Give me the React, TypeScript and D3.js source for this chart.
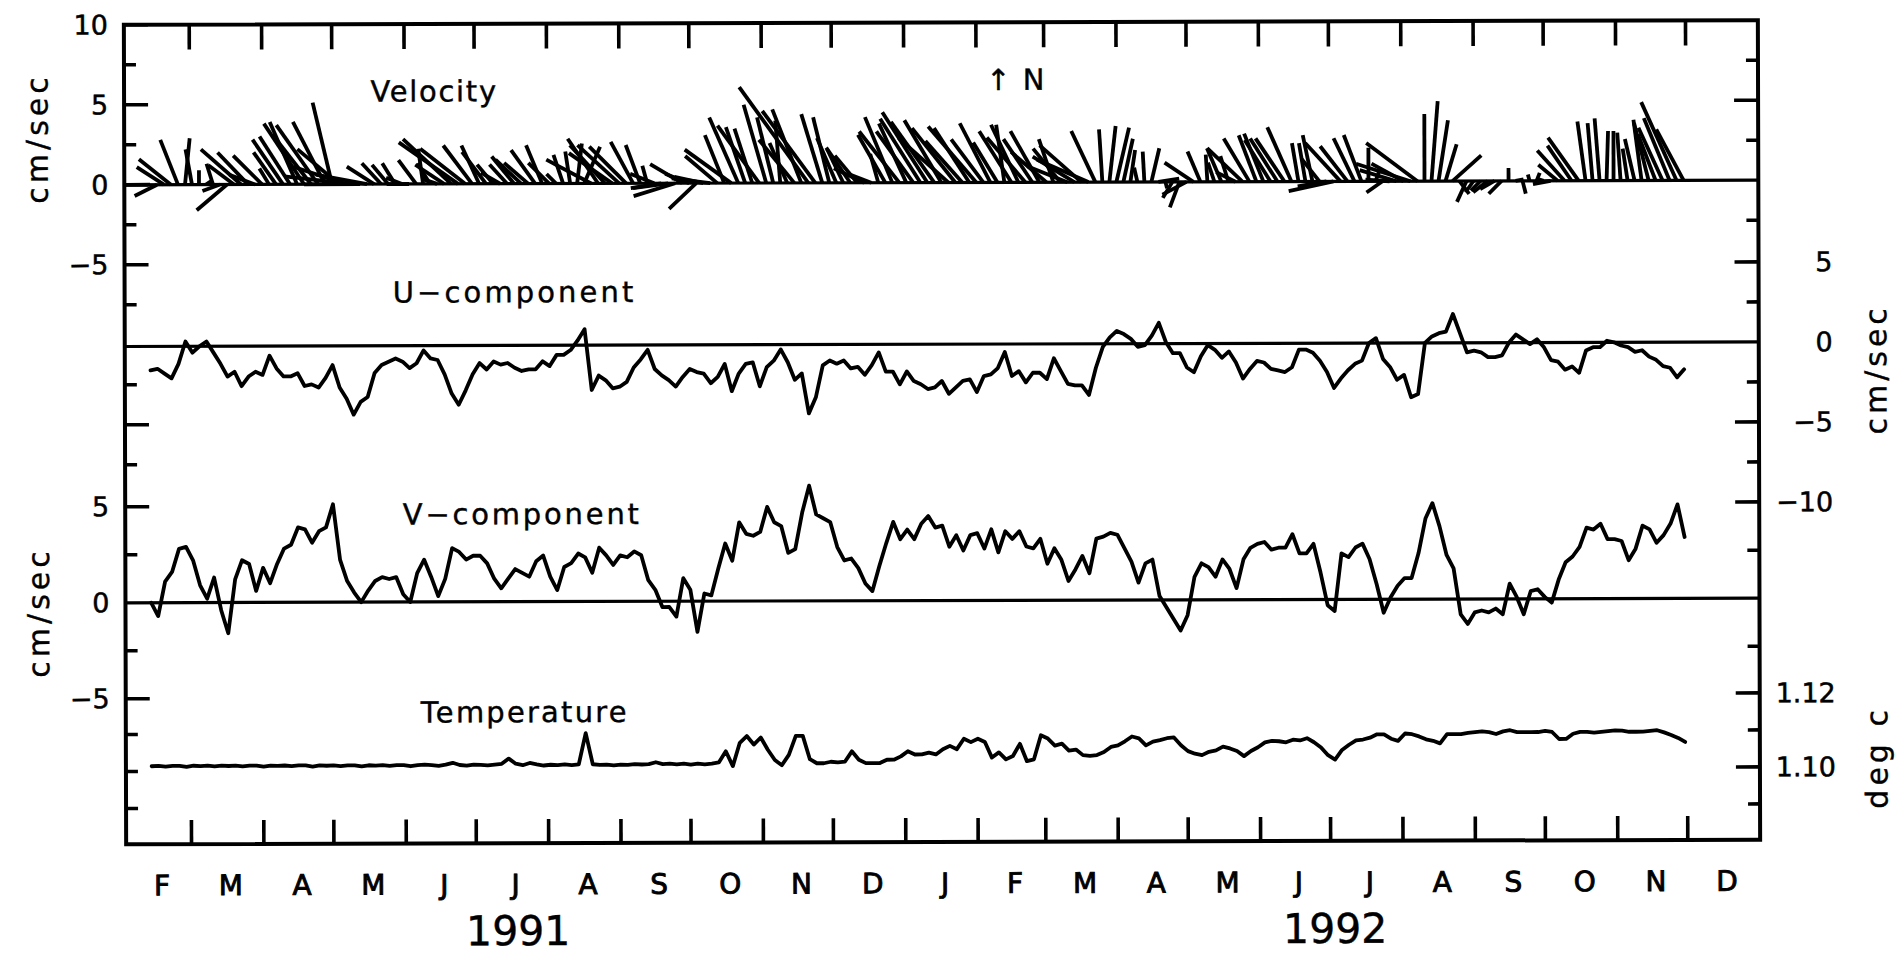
import React from 'react';
import * as d3 from 'd3';

// ---------------- data ----------------
const MONTH_LABELS = ['F','M','A','M','J','J','A','S','O','N','D','J','F','M','A','M','J','J','A','S','O','N','D'];
const YEAR_LABELS = ['1991', '1992'];
const SERIES_START = new Date(1991, 1, 12);
const STEP_DAYS = 3;

// U-component (cm/sec), one value every 3 days from 12 Feb 1991
const U_COMPONENT = [
  -1.5, -1.4, -1.7, -2.0, -1.1, 0.3, -0.4, 0.0, 0.3, -0.4,
  -1.1, -1.9, -1.6, -2.5, -1.9, -1.6, -1.8, -0.6, -1.4, -1.9,
  -1.9, -1.7, -2.5, -2.4, -2.6, -2.0, -1.2, -2.6, -3.3, -4.3,
  -3.5, -3.2, -1.7, -1.2, -1.0, -0.8, -1.0, -1.4, -1.1, -0.3,
  -0.8, -0.9, -1.8, -3.0, -3.7, -2.8, -1.8, -1.1, -1.5, -1.0,
  -1.2, -1.1, -1.4, -1.6, -1.5, -1.5, -1.0, -1.3, -0.6, -0.6,
  -0.3, 0.3, 1.0, -2.8, -1.9, -2.2, -2.7, -2.6, -2.3, -1.4,
  -0.9, -0.3, -1.5, -1.9,
  -2.2, -2.6, -2.0, -1.5, -1.7, -1.8,
  -2.4, -2.0, -1.2, -2.9, -1.8, -1.2, -1.1, -2.6, -1.4, -1.0,
  -0.3, -1.1, -2.2, -1.8, -4.3, -3.3, -1.3, -1.0, -1.2, -1.0,
  -1.5, -1.4, -1.9, -1.3, -0.5, -1.7, -1.7, -2.5, -1.7, -2.3,
  -2.5, -2.8, -2.7, -2.3, -3.1, -2.7, -2.3, -2.2, -3.0, -2.0,
  -1.9, -1.5, -0.5, -2.0, -1.7, -2.4, -1.8, -1.8, -2.2, -0.9,
  -1.7, -2.5, -2.6, -2.6, -3.2, -1.5, -0.2, 0.4, 0.8, 0.6,
  0.3, -0.2, -0.1, 0.5, 1.3, 0.1, -0.6,
  -0.6, -1.5, -1.8,
  -0.8, -0.1, -0.4, -0.9, -0.5, -1.2, -2.2, -1.6, -1.1, -1.2,
  -1.6, -1.7, -1.8, -1.5, -0.4, -0.4, -0.6, -1.1, -1.8, -2.8,
  -2.2, -1.7, -1.3, -1.1, 0.0, 0.3, -1.0, -1.5, -2.3, -2.0,
  -3.4, -3.2, 0.0, 0.4, 0.6, 0.7, 1.8, 0.6, -0.6, -0.5,
  -0.6, -0.9, -0.9, -0.8, 0.0, 0.5, 0.2, -0.1, 0.2, -0.3,
  -1.1, -1.2, -1.7, -1.5, -1.9, -0.5, -0.3, -0.3, 0.1, 0.0,
  -0.2, -0.3, -0.6, -0.5, -0.9, -1.1, -1.5, -1.6, -2.2, -1.7,
];

// V-component (cm/sec)
const V_COMPONENT = [
  0.0, -0.7, 1.1, 1.6, 2.8, 2.9, 2.2, 0.9, 0.2, 1.3,
  -0.4, -1.6, 1.2, 2.2, 2.0, 0.6, 1.8, 1.0, 2.0, 2.8,
  3.0, 3.9, 3.8, 3.1, 3.7, 3.9, 5.1, 2.2, 1.1, 0.5,
  0.0, 0.6, 1.1, 1.3, 1.2, 1.3, 0.4, 0.0, 1.5, 2.2,
  1.3, 0.3, 1.2, 2.8, 2.6, 2.2, 2.4, 2.4, 2.0, 1.2,
  0.7, 1.2, 1.7, 1.5, 1.3, 2.1, 2.4, 1.3, 0.6, 1.8,
  2.0, 2.5, 2.3, 1.5, 2.8, 2.4, 1.9, 2.4, 2.3, 2.6,
  2.4, 1.1, 0.6, -0.3,
  -0.3, -0.8, 1.2, 0.6, -1.6, 0.4,
  0.3, 1.7, 3.0, 2.1, 4.1, 3.5, 3.4, 3.6, 4.9, 4.1,
  3.9, 2.5, 2.7, 4.6, 6.0, 4.5, 4.3, 4.1, 2.8, 2.1,
  2.2, 1.7, 0.9, 0.5, 1.8, 3.0, 4.1, 3.2, 3.7, 3.2,
  4.0, 4.4, 3.8, 3.9, 2.8, 3.4, 2.6, 3.4, 3.5, 2.7,
  3.7, 2.5, 3.6, 3.2, 3.6, 2.8, 2.7, 3.2, 1.9, 2.7,
  2.1, 1.0, 1.6, 2.3, 1.4, 3.2, 3.3, 3.5, 3.4, 2.7,
  2.0, 0.9, 1.9, 2.1, 0.2, -0.4, -1.0,
  -1.6, -0.8, 1.2,
  1.9, 1.7, 1.2, 2.1, 1.6, 0.6, 2.1, 2.7, 2.9, 3.0,
  2.6, 2.7, 2.7, 3.4, 2.4, 2.4, 2.9, 1.4, -0.3, -0.6,
  2.4, 2.2, 2.7, 2.9, 2.1, 0.8, -0.7, 0.1, 0.7, 1.1,
  1.1, 2.4, 4.2, 5.0, 3.8, 2.3, 1.6, -0.8, -1.3, -0.7,
  -0.6, -0.7, -0.5, -0.8, 0.8, 0.1, -0.8, 0.4, 0.5, 0.1,
  -0.2, 1.0, 1.9, 2.2, 2.7, 3.7, 3.6, 3.9, 3.1, 3.1,
  3.0, 2.0, 2.6, 3.8, 3.6, 2.9, 3.3, 3.9, 4.9, 3.2,
];

// Temperature (deg C)
const TEMPERATURE = [
  1.1014, 1.1015, 1.1013, 1.1015, 1.1015, 1.1012, 1.1015, 1.1014, 1.1015, 1.1013,
  1.1015, 1.1014, 1.1015, 1.1013, 1.1015, 1.1015, 1.1012, 1.1015, 1.1014, 1.1015,
  1.1013, 1.1015, 1.1015, 1.1012, 1.1015, 1.1014, 1.1015, 1.1013, 1.1015, 1.1015,
  1.1012, 1.1015, 1.1014, 1.1015, 1.1013, 1.1015, 1.1015, 1.1012, 1.1015, 1.1016,
  1.1015, 1.1013, 1.1016, 1.1021, 1.1015, 1.1013, 1.1016, 1.1015, 1.1014, 1.1016,
  1.1018, 1.1032, 1.1018, 1.1014, 1.1020, 1.1016, 1.1013, 1.1015, 1.1014, 1.1016,
  1.1014, 1.1016, 1.1100, 1.1016, 1.1014, 1.1015, 1.1013, 1.1015, 1.1014, 1.1016,
  1.1015, 1.1016, 1.1021, 1.1016,
  1.1017, 1.1015, 1.1017, 1.1014, 1.1017, 1.1015,
  1.1017, 1.1020, 1.1050, 1.1010, 1.1073, 1.1091, 1.1068, 1.1087, 1.1054, 1.1026,
  1.1012, 1.1040, 1.1091, 1.1091, 1.1028, 1.1017, 1.1017, 1.1021, 1.1019, 1.1021,
  1.1049, 1.1026, 1.1017, 1.1017, 1.1017, 1.1026, 1.1026, 1.1035, 1.1049, 1.1040,
  1.1040, 1.1045, 1.1040, 1.1054, 1.1063, 1.1054, 1.1082, 1.1073, 1.1082, 1.1073,
  1.1031, 1.1045, 1.1026, 1.1035, 1.1068, 1.1021, 1.1026, 1.1091, 1.1082, 1.1063,
  1.1068, 1.1049, 1.1052, 1.1037, 1.1035, 1.1037, 1.1045, 1.1059, 1.1063, 1.1074,
  1.1087, 1.1082, 1.1063, 1.1073, 1.1077, 1.1082, 1.1084,
  1.1063, 1.1047, 1.1040,
  1.1036, 1.1045, 1.1049, 1.1059, 1.1054, 1.1047, 1.1033, 1.1047, 1.1057, 1.1070,
  1.1074, 1.1073, 1.1070, 1.1077, 1.1075, 1.1081, 1.1070, 1.1056, 1.1035, 1.1023,
  1.1049, 1.1063, 1.1075, 1.1077, 1.1082, 1.1091, 1.1091, 1.1079, 1.1073, 1.1093,
  1.1091, 1.1085, 1.1077, 1.1073, 1.1066, 1.1091, 1.1091, 1.1091, 1.1094, 1.1096,
  1.1098, 1.1096, 1.1091, 1.1098, 1.1101, 1.1096, 1.1096, 1.1096, 1.1096, 1.1099,
  1.1096, 1.1077, 1.1077, 1.1091, 1.1096, 1.1096, 1.1094, 1.1096, 1.1098, 1.1100,
  1.1099, 1.1096, 1.1096, 1.1096, 1.1098, 1.1100, 1.1094, 1.1087, 1.1079, 1.1068,
];

// axis tick values
const LEFT_VEL_MAJOR = [10, 5, 0, -5, -15];
const LEFT_VEL_MINOR = [7.5, 2.5, -2.5, -7.5, -12.5, -17.5];
const LEFT_VEL_LABELS = [10, 5, 0, -5];
const LEFT_V_MAJOR = [5, -5];
const LEFT_V_MINOR = [2.5, -2.5];
const LEFT_V_LABELS = [5, 0, -5];
const LEFT_T_MINOR = [1.11, 1.10, 1.09];
const RIGHT_VEL_MAJOR = [5];
const RIGHT_VEL_MINOR = [7.5, 2.5, -2.5];
const RIGHT_U_MAJOR = [5, -5, -10];
const RIGHT_U_MINOR = [2.5, -2.5, -7.5];
const RIGHT_U_LABELS = [5, 0, -5, -10];
const RIGHT_V_MINOR = [2.5, -2.5];
const RIGHT_T_MAJOR = [1.12, 1.10];
const RIGHT_T_MINOR = [1.11, 1.09];
const RIGHT_T_LABELS = [1.12, 1.10];

// ---------------- layout ----------------
const W = 1895, H = 957;
const X0 = 125, X1 = 1759, Y0 = 22.5, Y1 = 842;
const LONG = 24, SHORT = 12;
const FONT = '"DejaVu Sans", Verdana, sans-serif';

const fmtInt = (v: number) => (v < 0 ? '\u2212' + Math.abs(v) : String(v));
const fmtT = d3.format('.2f');

export default function App() {
  const x = d3.scaleTime().domain([new Date(1991, 1, 1), new Date(1993, 0, 1)]).range([X0, X1]);
  const yVel = d3.scaleLinear().domain([0, 10]).range([182.5, 22.5]);
  const yU = d3.scaleLinear().domain([0, 5]).range([344.2, 264.2]);
  const yV = d3.scaleLinear().domain([0, 5]).range([600.5, 504.5]);
  const yT = d3.scaleLinear().domain([1.10, 1.12]).range([769.2, 695.2]);

  const dates = U_COMPONENT.map((_, i) => d3.timeDay.offset(SERIES_START, i * STEP_DAYS));

  const lineU = d3.line<number>().x((_, i) => x(dates[i])).y((d) => yU(d));
  const lineV = d3.line<number>().x((_, i) => x(dates[i])).y((d) => yV(d));
  const lineT = d3.line<number>().x((_, i) => x(dates[i])).y((d) => yT(d));

  const k = yVel(0) - yVel(1); // px per cm/sec, same both directions
  const sticks = dates.map((d, i) => ({
    x1: x(d), y1: yVel(0),
    x2: x(d) + U_COMPONENT[i] * k, y2: yVel(V_COMPONENT[i]),
  }));

  const monthTicks = d3.timeMonths(new Date(1991, 2, 1), new Date(1993, 0, 1));
  const monthStarts = d3.timeMonths(new Date(1991, 1, 1), new Date(1993, 0, 1));
  const yearBounds = [
    [new Date(1991, 1, 1), new Date(1992, 0, 1)],
    [new Date(1992, 0, 1), new Date(1993, 0, 1)],
  ];

  const leftTick = (y: number, len: number, key: string) => (
    <line key={key} x1={X0} x2={X0 + len} y1={y} y2={y} />
  );
  const rightTick = (y: number, len: number, key: string) => (
    <line key={key} x1={X1} x2={X1 - len} y1={y} y2={y} />
  );

  const tickFont = { fontFamily: FONT, fontSize: 27, fill: '#000', stroke: '#000', strokeWidth: 0.5 } as const;
  const monthFont = { fontFamily: FONT, fontSize: 28, fill: '#000', stroke: '#000', strokeWidth: 0.9 } as const;
  const labelBase = { fontFamily: FONT, fontSize: 29, fill: '#000', stroke: '#000', strokeWidth: 0.4 } as const;

  return (
    <svg width={W} height={H} viewBox={`0 0 ${W} ${H}`}
      style={{ position: 'absolute', left: 0, top: 0, background: '#fff' }}>
      <rect x={0} y={0} width={W} height={H} fill="#fff" />
      <g transform="rotate(-0.16, 942, 432)">
        {/* sticks */}
        <g stroke="#000" strokeWidth={3.8} strokeLinecap="butt">
          {sticks.map((s, i) => (
            <line key={i} x1={s.x1} y1={s.y1} x2={s.x2} y2={s.y2} />
          ))}
        </g>

        {/* zero lines */}
        <g stroke="#000" strokeWidth={3.2}>
          <line x1={X0} x2={X1} y1={yVel(0)} y2={yVel(0)} />
          <line x1={X0} x2={X1} y1={yU(0)} y2={yU(0)} />
          <line x1={X0} x2={X1} y1={yV(0)} y2={yV(0)} />
        </g>

        {/* series */}
        <g fill="none" stroke="#000" strokeWidth={3.8} strokeLinejoin="round" strokeLinecap="round">
          <path d={lineU(U_COMPONENT) || ''} />
          <path d={lineV(V_COMPONENT) || ''} />
          <path d={lineT(TEMPERATURE) || ''} />
        </g>

        {/* frame */}
        <rect x={X0} y={Y0} width={X1 - X0} height={Y1 - Y0} fill="none" stroke="#000" strokeWidth={4} />

        {/* ticks */}
        <g stroke="#000" strokeWidth={3.6}>
          {monthTicks.map((m, i) => (
            <line key={'tt' + i} x1={x(m)} x2={x(m)} y1={Y0} y2={Y0 + 25} />
          ))}
          {monthTicks.map((m, i) => (
            <line key={'bt' + i} x1={x(m)} x2={x(m)} y1={Y1} y2={Y1 - 24} />
          ))}
          {LEFT_VEL_MAJOR.map((v) => leftTick(yVel(v), LONG, 'lvM' + v))}
          {LEFT_VEL_MINOR.map((v) => leftTick(yVel(v), SHORT, 'lvm' + v))}
          {LEFT_V_MAJOR.map((v) => leftTick(yV(v), LONG, 'lVM' + v))}
          {LEFT_V_MINOR.map((v) => leftTick(yV(v), SHORT, 'lVm' + v))}
          {LEFT_T_MINOR.map((v) => leftTick(yT(v), SHORT, 'lTm' + v))}
          {RIGHT_VEL_MAJOR.map((v) => rightTick(yVel(v), LONG, 'rvM' + v))}
          {RIGHT_VEL_MINOR.map((v) => rightTick(yVel(v), SHORT, 'rvm' + v))}
          {RIGHT_U_MAJOR.map((v) => rightTick(yU(v), LONG, 'rUM' + v))}
          {RIGHT_U_MINOR.map((v) => rightTick(yU(v), SHORT, 'rUm' + v))}
          {RIGHT_V_MINOR.map((v) => rightTick(yV(v), SHORT, 'rVm' + v))}
          {RIGHT_T_MAJOR.map((v) => rightTick(yT(v), LONG, 'rTM' + v))}
          {RIGHT_T_MINOR.map((v) => rightTick(yT(v), SHORT, 'rTm' + v))}
        </g>

        {/* tick labels */}
        <g style={tickFont}>
          {LEFT_VEL_LABELS.map((v) => (
            <text key={'lvl' + v} x={X0 - 16} y={yVel(v)} textAnchor="end" dominantBaseline="central">{fmtInt(v)}</text>
          ))}
          {LEFT_V_LABELS.map((v) => (
            <text key={'lVl' + v} x={X0 - 16} y={yV(v)} textAnchor="end" dominantBaseline="central">{fmtInt(v)}</text>
          ))}
          {RIGHT_U_LABELS.map((v) => (
            <text key={'rUl' + v} x={1833} y={yU(v)} textAnchor="end" dominantBaseline="central">{fmtInt(v)}</text>
          ))}
          {RIGHT_T_LABELS.map((v) => (
            <text key={'rTl' + v} x={1835} y={yT(v)} textAnchor="end" dominantBaseline="central">{fmtT(v)}</text>
          ))}
        </g>

        {/* month and year labels */}
        <g style={monthFont}>
          {monthStarts.map((m, i) => (
            <text key={'ml' + i} x={x(new Date((+m + +d3.timeMonth.offset(m, 1)) / 2)) + 3} y={893}
              textAnchor="middle">{MONTH_LABELS[i]}</text>
          ))}
        </g>
        <g style={{ fontFamily: FONT, fontSize: 41, fill: '#000', stroke: '#000', strokeWidth: 0.4 }}>
          {YEAR_LABELS.map((yl, i) => (
            <text key={yl} x={x(new Date((+yearBounds[i][0] + +yearBounds[i][1]) / 2)) + 2} y={944}
              textAnchor="middle">{yl}</text>
          ))}
        </g>

        {/* panel labels */}
        <g style={labelBase}>
          <text x={435} y={100} textAnchor="middle" letterSpacing={1.7}>Velocity</text>
          <text x={1017} y={90} textAnchor="middle" letterSpacing={1.5}>{'\u2191 N'}</text>
          <text x={515} y={301} textAnchor="middle" letterSpacing={3.1}>{'U\u2212component'}</text>
          <text x={522} y={523} textAnchor="middle" letterSpacing={2.8}>{'V\u2212component'}</text>
          <text x={524} y={721} textAnchor="middle" letterSpacing={2.2}>Temperature</text>
        </g>

        {/* axis titles */}
        <g style={{ fontFamily: FONT, fontSize: 30, fill: '#000', stroke: '#000', strokeWidth: 0.4, letterSpacing: 4 }}>
          <text transform="translate(38,136) rotate(-90)" textAnchor="middle" dominantBaseline="central">cm/sec</text>
          <text transform="translate(38,610) rotate(-90)" textAnchor="middle" dominantBaseline="central">cm/sec</text>
          <text transform="translate(1876,372) rotate(-90)" textAnchor="middle" dominantBaseline="central">cm/sec</text>
          <text transform="translate(1876,760) rotate(-90)" textAnchor="middle" dominantBaseline="central">deg c</text>
        </g>
      </g>
    </svg>
  );
}
